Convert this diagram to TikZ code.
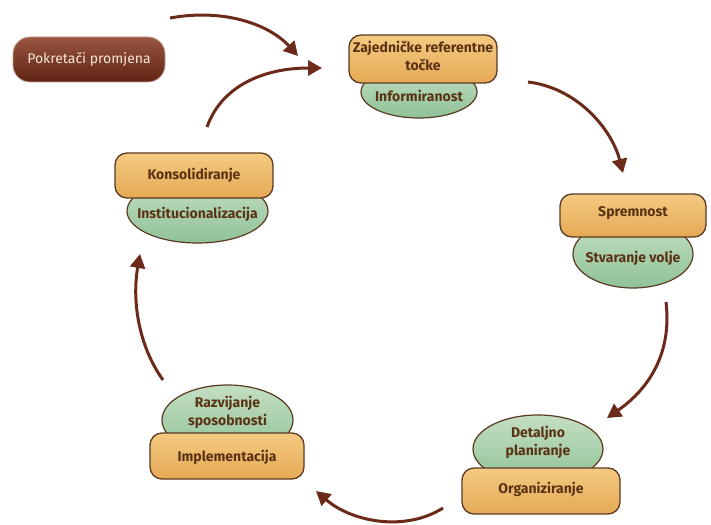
\documentclass[tikz,border=0pt]{standalone}
\usepackage{fontspec}
\setmainfont{Fira Sans}
\usetikzlibrary{arrows.meta,shapes.geometric}
\definecolor{arr}{HTML}{6B2A1A}
\definecolor{txt}{HTML}{5A3214}
\definecolor{edge}{HTML}{5A3A22}
\definecolor{orT}{HTML}{F4CA82}
\definecolor{orB}{HTML}{E5A955}
\definecolor{grT}{HTML}{C4DFC2}
\definecolor{grB}{HTML}{8FC297}
\definecolor{pkT}{HTML}{9A5540}
\definecolor{pkB}{HTML}{5E2414}
\definecolor{pkTxt}{HTML}{F6E6D4}
\tikzset{
  obox/.style={rounded corners=12pt, draw=edge, line width=1.3pt, top color=orT, bottom color=orB, inner sep=0pt},
  gell/.style={ellipse, draw=edge, line width=1.2pt, top color=grT, bottom color=grB, inner sep=0pt},
  lbl/.style={text=txt, font=\bfseries\fontsize{14}{18}\selectfont, align=center, inner sep=0pt},
  cyc/.style={draw=arr, line width=3pt, -{Triangle[length=14pt,width=15pt]}},
}
\begin{document}
\begin{tikzpicture}[x=1pt,y=-1pt]
\useasboundingbox (0,0) rectangle (711,524);

% Pokretaci promjena
\node[rounded corners=17pt, draw=pkT!60!white, line width=0.8pt, top color=pkT, bottom color=pkB, minimum width=152pt, minimum height=45pt, text=pkTxt, font=\fontsize{14}{16}\selectfont] (pk) at (89,59.5) {Pokretači promjena};

% Top group
\node[gell, minimum width=116pt, minimum height=52pt] (e1) at (419,92) {};
\node[obox, minimum width=148pt, minimum height=48pt] (b1) at (423,59) {};
\node[lbl] (t1a) at (423,56) {Zajedničke referentne\\točke};
\node[lbl] (t1b) at (419,96) {Informiranost};

% Spremnost group
\node[gell, minimum width=120pt, minimum height=68pt] (e2) at (633,254) {};
\node[obox, minimum width=146pt, minimum height=43pt] (b2) at (633,215.5) {};
\node[lbl] (t2a) at (633,213) {Spremnost};
\node[lbl] (t2b) at (633,258) {Stvaranje volje};

% Detaljno group
\node[gell, minimum width=130pt, minimum height=68pt] (e3) at (538,449) {};
\node[obox, minimum width=158pt, minimum height=46pt] (b3) at (541,491) {};
\node[lbl] (t3a) at (538,442) {Detaljno\\planiranje};
\node[lbl] (t3b) at (541,489) {Organiziranje};

% Razvijanje group
\node[gell, minimum width=131pt, minimum height=70pt] (e4) at (227.5,420) {};
\node[obox, minimum width=154pt, minimum height=46pt] (b4) at (227,456) {};
\node[lbl] (t4a) at (227.5,412) {Razvijanje\\sposobnosti};
\node[lbl] (t4b) at (227,457) {Implementacija};

% Konsolidiranje group
\node[gell, minimum width=141pt, minimum height=64pt] (e5) at (197.5,211) {};
\node[obox, minimum width=158pt, minimum height=45pt] (b5) at (194,175.5) {};
\node[lbl] (t5a) at (194,175) {Konsolidiranje};
\node[lbl] (t5b) at (197.5,214) {Institucionalizacija};

% arrow end points
\coordinate (a1s) at (170,18);  \coordinate (a1e) at (298,56);
\coordinate (a2s) at (207,127); \coordinate (a2e) at (322,68);
\coordinate (a3s) at (528,82);  \coordinate (a3e) at (623,173);
\coordinate (a4s) at (666,302); \coordinate (a4e) at (607,418);
\coordinate (a5s) at (443,508); \coordinate (a5e) at (316,491);
\coordinate (a6s) at (163,380); \coordinate (a6e) at (140,254);

\draw[cyc] (a1s) .. controls (225,8) and (270,25) .. (a1e);
\draw[cyc] (a2s) .. controls (222,85) and (265,68) .. (a2e);
\draw[cyc] (a3s) .. controls (578,88) and (612,130) .. (a3e);
\draw[cyc] (a4s) .. controls (672,352) and (650,388) .. (a4e);
\draw[cyc] (a5s) .. controls (405,532) and (352,522) .. (a5e);
\draw[cyc] (a6s) .. controls (138,345) and (132,300) .. (a6e);
\end{tikzpicture}
\end{document}
